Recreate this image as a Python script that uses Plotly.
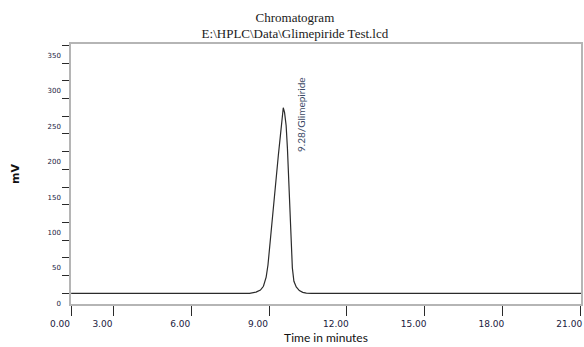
import plotly.graph_objects as go

# ---- data ----
time_min = [1.37, 8.25, 8.50, 8.67, 8.785, 8.89, 8.96, 9.03, 9.11, 9.19, 9.28, 9.36,
            9.44, 9.50, 9.55, 9.60, 9.66, 9.71, 9.76, 9.80, 9.85, 9.90, 9.96, 10.05,
            10.17, 10.30, 10.44, 10.63, 21.03]
signal_mv = [0, 0, 1.8, 4.6, 10, 23, 40, 68, 103, 137, 167, 195,
             223, 248, 262, 255, 237, 205, 160, 110, 68, 36, 17, 9,
             4, 1.4, 0.4, 0, 0]

peak_time = 9.55
peak_height = 262
peak_label = "9.28/Glimepiride"

x_ticks = [3, 6, 9, 12, 15, 18, 21]
x_tick_text = ["3.00", "6.00", "9.00", "12.00", "15.00", "18.00", "21.00"]
x_start_label = "0.00"
y_ticks = [0, 50, 100, 150, 200, 250, 300, 350]

title_lines = ["Chromatogram", "E:\\HPLC\\Data\\Glimepiride Test.lcd"]

X_RANGE = [1.365, 21.03]
Y_RANGE = [-15, 352]

fig = go.Figure()
fig.add_trace(go.Scatter(
    x=time_min, y=signal_mv, mode="lines",
    line=dict(color="#2b2b2b", width=1.2),
    showlegend=False, hoverinfo="skip",
))

fig.add_annotation(
    x=peak_time, y=peak_height, xref="x", yref="y",
    text=peak_label, textangle=-90, showarrow=False,
    xanchor="center", yanchor="middle", xshift=17, yshift=-7,
    font=dict(family="Lato", size=10, color="#3c4a66"),
)

fig.update_layout(
    width=584, height=347,
    margin=dict(l=71, r=1, t=44, b=43),
    paper_bgcolor="white", plot_bgcolor="white",
    title=dict(
        text="<br>".join(title_lines),
        x=0.505, xanchor="center", y=0.938, yanchor="top",
        font=dict(family="Liberation Serif", size=13, color="#1a1a1a"),
    ),
    xaxis=dict(
        range=X_RANGE,
        tickvals=[X_RANGE[0]] + x_ticks,
        ticktext=[x_start_label] + x_tick_text,
        ticks="outside", ticklen=10, tickwidth=1.2, tickcolor="#2a2a2a",
        ticklabelshift=-11,
        showgrid=False, zeroline=False,
        showline=True, linecolor="#b5b5b5", linewidth=1.5, mirror=True,
        tickfont=dict(family="DejaVu Sans", size=9, color="#1a2040"),
        title=dict(text="Time in minutes", standoff=6,
                   font=dict(family="Lato", size=12, color="#111111")),
    ),
    yaxis=dict(
        range=Y_RANGE,
        tickvals=y_ticks,
        ticks="outside", ticklen=7, tickwidth=1.2, tickcolor="#2a2a2a",
        minor=dict(dtick=25, tick0=0, ticks="outside", ticklen=7,
                   tickwidth=1.2, tickcolor="#2a2a2a", showgrid=False),
        ticklabelshift=10,
        showgrid=False, zeroline=False,
        showline=True, linecolor="#b5b5b5", linewidth=1.5, mirror=True,
        tickfont=dict(family="DejaVu Sans", size=7, color="#1a2040"),
        title=dict(text="mV", standoff=26,
                   font=dict(family="DejaVu Sans", size=11, color="#111111",
                             weight="bold")),
    ),
)

fig.write_html("out.html", config={"displayModeBar": False},
               post_script="document.body.style.margin='0';")
